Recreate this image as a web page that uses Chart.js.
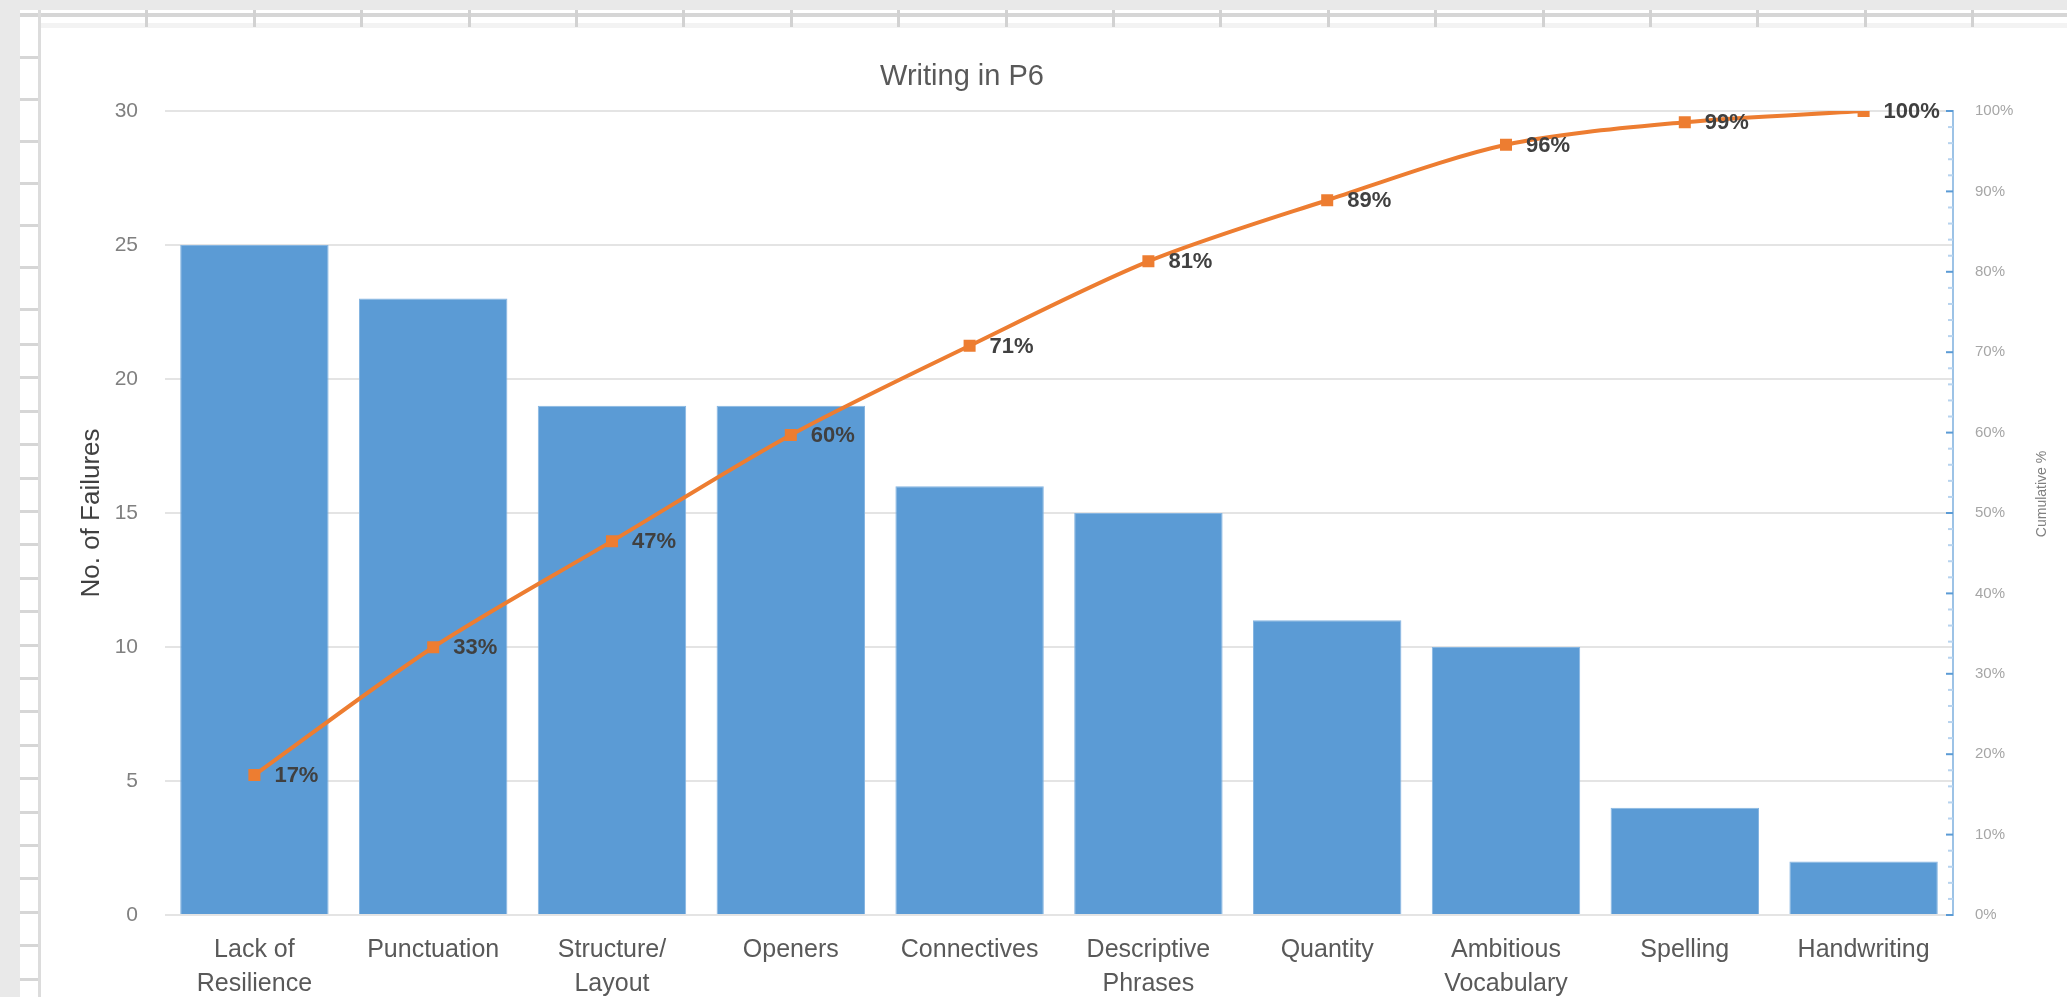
<!DOCTYPE html>
<html>
<head>
    <meta charset="utf-8">
    <title>Writing in P6</title>
    <script src="https://cdn.jsdelivr.net/npm/chart.js"></script>
    <style>
        html, body {
            margin: 0;
            padding: 0;
        }

        body {
            width: 2067px;
            height: 997px;
            overflow: hidden;
            position: relative;
            background: #e9e9e9;
        }

        .sheet {
            position: absolute;
            left: 20px;
            top: 10px;
            right: 0;
            bottom: 0;
            background: #fff;
        }

        .col-head {
            position: absolute;
            left: 20px;
            right: 0;
            top: 13px;
            height: 4px;
            background: #d6d6d6;
        }

        .col-ticks {
            position: absolute;
            left: 38px;
            right: 0;
            top: 10px;
            height: 17px;
            background: repeating-linear-gradient(to right, #d2d2d2 0 3px, transparent 3px 107.4px);
        }

        .col-shade {
            position: absolute;
            left: 41px;
            right: 0;
            top: 23px;
            height: 5px;
            background: #f3f3f3;
        }

        .row-lines-a {
            position: absolute;
            left: 20px;
            width: 18px;
            top: 56px;
            height: 258px;
            background: repeating-linear-gradient(to bottom, #d6d6d6 0 3px, transparent 3px 42px);
        }

        .row-lines-b {
            position: absolute;
            left: 20px;
            width: 18px;
            top: 343px;
            bottom: 0;
            background: repeating-linear-gradient(to bottom, #d6d6d6 0 3px, transparent 3px 33.4px);
        }

        .row-edge {
            position: absolute;
            left: 38px;
            width: 3px;
            top: 10px;
            bottom: 0;
            background: #dcdcdc;
        }

        #paretoChart {
            position: absolute;
            left: 0;
            top: 0;
        }
    </style>
</head>
<body>
    <div class="sheet"></div>
    <div class="col-head"></div>
    <div class="col-shade"></div>
    <div class="col-ticks"></div>
    <div class="row-lines-a"></div>
    <div class="row-lines-b"></div>
    <div class="row-edge"></div>

    <canvas id="paretoChart" width="2067" height="997"></canvas>

    <script>
        // данные диаграммы
        const categories = [
            ['Lack of', 'Resilience'], 'Punctuation', ['Structure/', 'Layout'], 'Openers',
            'Connectives', ['Descriptive', 'Phrases'], 'Quantity', ['Ambitious', 'Vocabulary'],
            'Spelling', 'Handwriting'
        ];
        const failures = [25, 23, 19, 19, 16, 15, 11, 10, 4, 2];
        const cumulativePct = [17.4, 33.3, 46.5, 59.7, 70.8, 81.3, 88.9, 95.8, 98.6, 100];
        const failureTicks = [0, 5, 10, 15, 20, 25, 30];
        const pctTicks = [0, 10, 20, 30, 40, 50, 60, 70, 80, 90, 100];

        const FONT = "'Liberation Sans', Arial, sans-serif";

        // заголовки, подписи точек и засечки правой оси
        const extrasPlugin = {
            id: 'extras',
            afterDraw(chart) {
                const ctx = chart.ctx;
                ctx.save();

                ctx.font = '29px ' + FONT;
                ctx.fillStyle = '#595959';
                ctx.textAlign = 'center';
                ctx.textBaseline = 'alphabetic';
                ctx.fillText('Writing in P6', 962, 85);

                // засечки на правой оси (внутрь)
                const y1 = chart.scales.y1;
                for (let v = 0; v <= 100; v += 2) {
                    const py = y1.getPixelForValue(v);
                    const major = v % 10 === 0;
                    ctx.strokeStyle = major ? '#5b9bd5' : '#b7d3ee';
                    ctx.lineWidth = 2;
                    ctx.beginPath();
                    ctx.moveTo(y1.left - (major ? 7 : 5), py);
                    ctx.lineTo(y1.left, py);
                    ctx.stroke();
                }

                ctx.translate(2042, 494);
                ctx.rotate(-Math.PI / 2);
                ctx.font = '14px ' + FONT;
                ctx.fillStyle = '#808080';
                ctx.textBaseline = 'middle';
                ctx.fillText('Cumulative %', 0, 0);
                ctx.restore();
            },
            afterDatasetsDraw(chart) {
                const ctx = chart.ctx;
                const meta = chart.getDatasetMeta(1);
                ctx.save();
                ctx.font = 'bold 22px ' + FONT;
                ctx.fillStyle = '#404040';
                ctx.textAlign = 'left';
                ctx.textBaseline = 'middle';
                meta.data.forEach((pt, i) => {
                    ctx.fillText(Math.round(cumulativePct[i]) + '%', pt.x + 20, pt.y + 1);
                });
                ctx.restore();
            }
        };

        const chart = new Chart(document.getElementById('paretoChart'), {
            data: {
                labels: categories,
                datasets: [
                    {
                        type: 'bar',
                        label: 'No. of Failures',
                        data: failures,
                        yAxisID: 'y',
                        backgroundColor: '#5b9bd5',
                        borderColor: '#86b5e1',
                        borderWidth: 1,
                        barPercentage: 0.83,
                        categoryPercentage: 1,
                        order: 2
                    },
                    {
                        type: 'line',
                        label: 'Cumulative %',
                        data: cumulativePct,
                        yAxisID: 'y1',
                        borderColor: '#ed7d31',
                        borderWidth: 4,
                        tension: 0.3,
                        pointStyle: 'rect',
                        pointRadius: 8.5,
                        pointBackgroundColor: '#ed7d31',
                        pointBorderWidth: 0,
                        order: 1
                    }
                ]
            },
            options: {
                responsive: false,
                animation: false,
                layout: { padding: { top: 111, left: 0, right: 0, bottom: 0 } },
                plugins: {
                    legend: { display: false },
                    tooltip: { enabled: false }
                },
                scales: {
                    x: {
                        grid: { display: false },
                        border: { display: false },
                        ticks: {
                            color: '#595959',
                            font: { family: FONT, size: 25, lineHeight: 1.36 },
                            padding: 10,
                            maxRotation: 0,
                            autoSkip: false
                        },
                        afterFit(s) { s.height = 82; }
                    },
                    y: {
                        position: 'left',
                        min: 0,
                        max: 30,
                        afterBuildTicks(s) { s.ticks = failureTicks.map(v => ({ value: v })); },
                        afterFit(s) { s.width = 165; },
                        grid: { color: '#e4e4e4', lineWidth: 2, drawTicks: false },
                        border: { display: false },
                        ticks: { color: '#808080', font: { family: FONT, size: 21 }, padding: 27 },
                        title: {
                            display: true,
                            text: 'No. of Failures',
                            color: '#404040',
                            font: { family: FONT, size: 26 },
                            padding: { top: 76, bottom: 0 }
                        }
                    },
                    y1: {
                        position: 'right',
                        min: 0,
                        max: 100,
                        afterBuildTicks(s) { s.ticks = pctTicks.map(v => ({ value: v })); },
                        afterFit(s) { s.width = 114; },
                        grid: { drawOnChartArea: false, drawTicks: false },
                        border: { display: true, color: '#9dc3e6', width: 2 },
                        ticks: {
                            color: '#a6a6a6',
                            font: { family: FONT, size: 15 },
                            padding: 22,
                            callback: v => v + '%'
                        }
                    }
                }
            },
            plugins: [extrasPlugin]
        });
    </script>
</body>
</html>
